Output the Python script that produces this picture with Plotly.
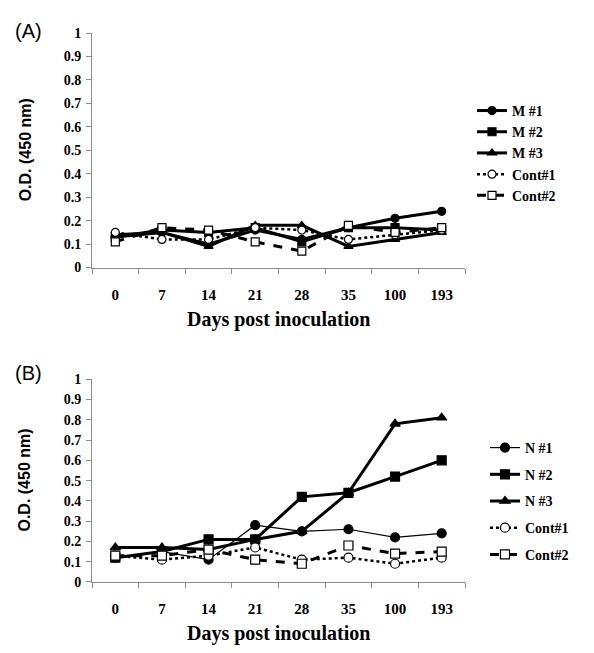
import plotly.graph_objects as go

days = ["0", "7", "14", "21", "28", "35", "100", "193"]

# Panel A
m1 = [0.13, 0.15, 0.10, 0.16, 0.12, 0.17, 0.21, 0.24]
m2 = [0.13, 0.16, 0.15, 0.17, 0.11, 0.17, 0.17, 0.16]
m3 = [0.14, 0.15, 0.09, 0.18, 0.18, 0.09, 0.12, 0.15]
a_cont1 = [0.15, 0.12, 0.12, 0.17, 0.16, 0.12, 0.14, 0.16]
a_cont2 = [0.11, 0.17, 0.16, 0.11, 0.07, 0.18, 0.15, 0.17]

# Panel B
n1 = [0.12, 0.15, 0.11, 0.28, 0.25, 0.26, 0.22, 0.24]
n2 = [0.12, 0.15, 0.21, 0.21, 0.42, 0.44, 0.52, 0.60]
n3 = [0.17, 0.17, 0.16, 0.21, 0.25, 0.44, 0.78, 0.81]
b_cont1 = [0.13, 0.11, 0.13, 0.17, 0.11, 0.12, 0.09, 0.12]
b_cont2 = [0.13, 0.13, 0.16, 0.11, 0.09, 0.18, 0.14, 0.15]

names_a = ["M #1", "M #2", "M #3", "Cont#1", "Cont#2"]
names_b = ["N #1", "N #2", "N #3", "Cont#1", "Cont#2"]

styles = [
    dict(symbol="circle", fill="black", width=3, dash="solid"),
    dict(symbol="square", fill="black", width=3, dash="solid"),
    dict(symbol="triangle-up", fill="black", width=3, dash="solid"),
    dict(symbol="circle", fill="white", width=2.5, dash="dot"),
    dict(symbol="square", fill="white", width=3, dash="dash"),
]

fig = go.Figure()

for i, (nm, ys) in enumerate(zip(names_a, [m1, m2, m3, a_cont1, a_cont2])):
    s = styles[i]
    fig.add_trace(go.Scatter(
        x=days, y=ys, name=nm, mode="lines+markers",
        xaxis="x", yaxis="y", legend="legend",
        line=dict(color="black", width=s["width"], dash=s["dash"]),
        marker=dict(symbol=s["symbol"], size=8, color=s["fill"],
                    line=dict(color="black", width=1.2)),
    ))

for i, (nm, ys) in enumerate(zip(names_b, [n1, n2, n3, b_cont1, b_cont2])):
    s = styles[i]
    w = 1.2 if i == 0 else s["width"]
    fig.add_trace(go.Scatter(
        x=days, y=ys, name=nm, mode="lines+markers",
        xaxis="x2", yaxis="y2", legend="legend2", legendgroup="g%d" % i,
        line=dict(color="black", width=w, dash=s["dash"]),
        marker=dict(symbol=s["symbol"], size=9, color=s["fill"],
                    line=dict(color="black", width=1.2)),
    ))

W, H = 594, 653
x0, x1 = 92 / W, 465 / W
serif_bold = dict(family="Liberation Serif", size=15, color="black", weight="bold")
tick_font = dict(family="Liberation Serif", size=14, color="black", weight="bold")

def xaxis(anchor):
    return dict(domain=[x0, x1], anchor=anchor, type="category", categoryorder="array",
                categoryarray=days, range=[-0.5, 7.5], showline=True, linecolor="#8c8c8c",
                linewidth=1, ticks="outside", tickson="boundaries", ticklen=5, tickcolor="#8c8c8c",
                showgrid=False, zeroline=False, tickfont=serif_bold, ticklabelstandoff=13)

def yaxis(anchor, dom):
    return dict(domain=dom, anchor=anchor, range=[0, 1], dtick=0.1, tick0=0, showline=True,
                linecolor="#8c8c8c", linewidth=1, ticks="outside", ticklen=5, tickcolor="#8c8c8c",
                showgrid=False, zeroline=False, tickfont=tick_font, ticklabelstandoff=2)

leg_font = dict(family="Liberation Serif", size=14, color="black", weight="bold")

fig.update_layout(
    width=W, height=H, margin=dict(l=0, r=0, t=0, b=0),
    plot_bgcolor="white", paper_bgcolor="white",
    xaxis=xaxis("y"),
    yaxis=yaxis("x", [1 - 266.7 / H, 1 - 26.7 / H]),
    xaxis2=xaxis("y2"),
    yaxis2=yaxis("x2", [1 - 588.5 / H, 1 - 381 / H]),
    legend=dict(x=472 / W, y=1 - 90 / H, xanchor="left", yanchor="top", font=leg_font,
                bgcolor="rgba(0,0,0,0)", tracegroupgap=0, itemwidth=30),
    legend2=dict(x=485 / W, y=1 - 435 / H, xanchor="left", yanchor="top", font=leg_font,
                 bgcolor="rgba(0,0,0,0)", tracegroupgap=5.5, itemwidth=30),
    showlegend=True,
)

ann = []
for (ytitle, ymid, ylab, panel) in [(320, 146.7, 25, "(A)"), (641, 484.7, 375, "(B)")]:
    ann.append(dict(text="Days post inoculation", x=278 / W, y=1 - ytitle / H, xref="paper", yref="paper",
                    showarrow=False, xanchor="center", yanchor="middle",
                    font=dict(family="Liberation Serif", size=20, color="black", weight="bold")))
    ann.append(dict(text="O.D. (450 nm)", x=25 / W, y=1 - ymid / H, xref="paper", yref="paper",
                    showarrow=False, xanchor="center", yanchor="middle", textangle=-90,
                    font=dict(family="Liberation Sans", size=16, color="black", weight="bold")))
    ann.append(dict(text=panel, x=13 / W, y=1 - ylab / H, xref="paper", yref="paper",
                    showarrow=False, xanchor="left", yanchor="middle",
                    font=dict(family="Liberation Sans", size=20, color="black")))
fig.update_layout(annotations=ann)

fig.write_html("out.html")
